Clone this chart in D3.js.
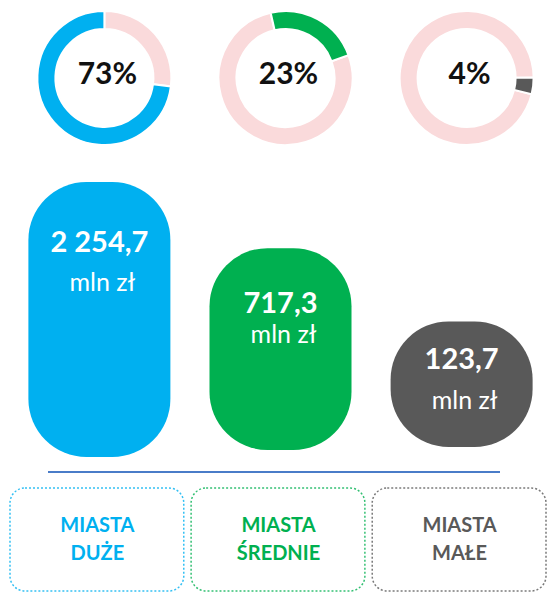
<!DOCTYPE html>
<html>
<head>
<meta charset="utf-8">
<script src="https://cdn.jsdelivr.net/npm/d3@7"></script>
<style>
  body { margin: 0; background: #fff; }
  text { font-family: Lato, "Open Sans", sans-serif; }
</style>
</head>
<body>
<div id="chart"></div>
<script>
// data
var categories = ["duze", "srednie", "male"];
var labelLine1 = ["MIASTA", "MIASTA", "MIASTA"];
var labelLine2 = ["DUŻE", "ŚREDNIE", "MAŁE"];
var shares = [73, 23, 4];              // % of total
var amounts = [2254.7, 717.3, 123.7];  // mln zł
var amountText = ["2 254,7", "717,3", "123,7"];
var unitText = "mln zł";

// look
var colors = ["#00B0F0", "#00B050", "#595959"];
var restColor = "#FADADB";
var donutRotation = [0, 70, 104];      // degrees, where the first slice starts
var barBottom = [457, 450, 447];
var labelDy = [[70, 109], [65, 95], [48, 88]];

var w = 547, h = 593;

var svg = d3.select("#chart")
            .append("svg")
            .attr("width", w)
            .attr("height", h);

var x = d3.scaleBand()
          .domain(categories)
          .range([10, 547])
          .paddingInner(0.035);

// bar height grows slower than the value
var hScale = d3.scalePow()
               .exponent(0.27)
               .domain([0, d3.max(amounts)])
               .range([0, 275]);

// donuts
var pie = d3.pie().sort(null).value(d => d);
var arc = d3.arc().innerRadius(49).outerRadius(67);

categories.forEach(function(c, i) {
    var cx = x(c) + x.bandwidth() / 2 + 7;
    var g = svg.append("g").attr("transform", "translate(" + cx + ",78)");
    var rot = donutRotation[i] * Math.PI / 180;
    pie.startAngle(rot).endAngle(rot + 2 * Math.PI);
    g.selectAll("path")
     .data(pie([100 - shares[i], shares[i]]))
     .enter()
     .append("path")
     .attr("d", arc)
     .attr("fill", (d, j) => j === 0 ? restColor : colors[i])
     .attr("stroke", "#fff")
     .attr("stroke-width", 2);
    g.append("text")
     .attr("x", 3)
     .attr("y", 6)
     .attr("text-anchor", "middle")
     .attr("font-size", 30)
     .attr("font-weight", "bold")
     .attr("fill", "#111")
     .text(shares[i] + "%");
});

// bars
var bw = 142;
categories.forEach(function(c, i) {
    var cx = x(c) + x.bandwidth() / 2 + 2;
    var bh = hScale(amounts[i]);
    var top = barBottom[i] - bh;
    svg.append("rect")
       .attr("x", cx - bw / 2)
       .attr("y", top)
       .attr("width", bw)
       .attr("height", bh)
       .attr("rx", 58)
       .attr("ry", 58)
       .attr("fill", colors[i]);
    svg.append("text")
       .attr("x", cx)
       .attr("y", top + labelDy[i][0])
       .attr("text-anchor", "middle")
       .attr("font-size", 29)
       .attr("font-weight", "bold")
       .attr("fill", "#fff")
       .text(amountText[i]);
    svg.append("text")
       .attr("x", cx + 3)
       .attr("y", top + labelDy[i][1])
       .attr("text-anchor", "middle")
       .attr("font-size", 25)
       .attr("fill", "#fff")
       .text(unitText);
});

// base line
svg.append("line")
   .attr("x1", 48).attr("x2", 500)
   .attr("y1", 472).attr("y2", 472)
   .attr("stroke", "#4A7CC8")
   .attr("stroke-width", 2);

// category boxes
categories.forEach(function(c, i) {
    svg.append("rect")
       .attr("x", x(c))
       .attr("y", 488)
       .attr("width", x.bandwidth() - 1)
       .attr("height", 103)
       .attr("rx", 15)
       .attr("fill", "none")
       .attr("stroke", colors[i])
       .attr("stroke-opacity", 0.8)
       .attr("stroke-width", 1.5)
       .attr("stroke-dasharray", "2,2");
    var t = svg.append("text")
       .attr("text-anchor", "middle")
       .attr("font-size", 20)
       .attr("font-weight", "bold")
       .attr("fill", colors[i]);
    t.append("tspan").attr("x", x(c) + x.bandwidth() / 2).attr("y", 532).text(labelLine1[i]);
    t.append("tspan").attr("x", x(c) + x.bandwidth() / 2).attr("y", 560).text(labelLine2[i]);
});
</script>
</body>
</html>
